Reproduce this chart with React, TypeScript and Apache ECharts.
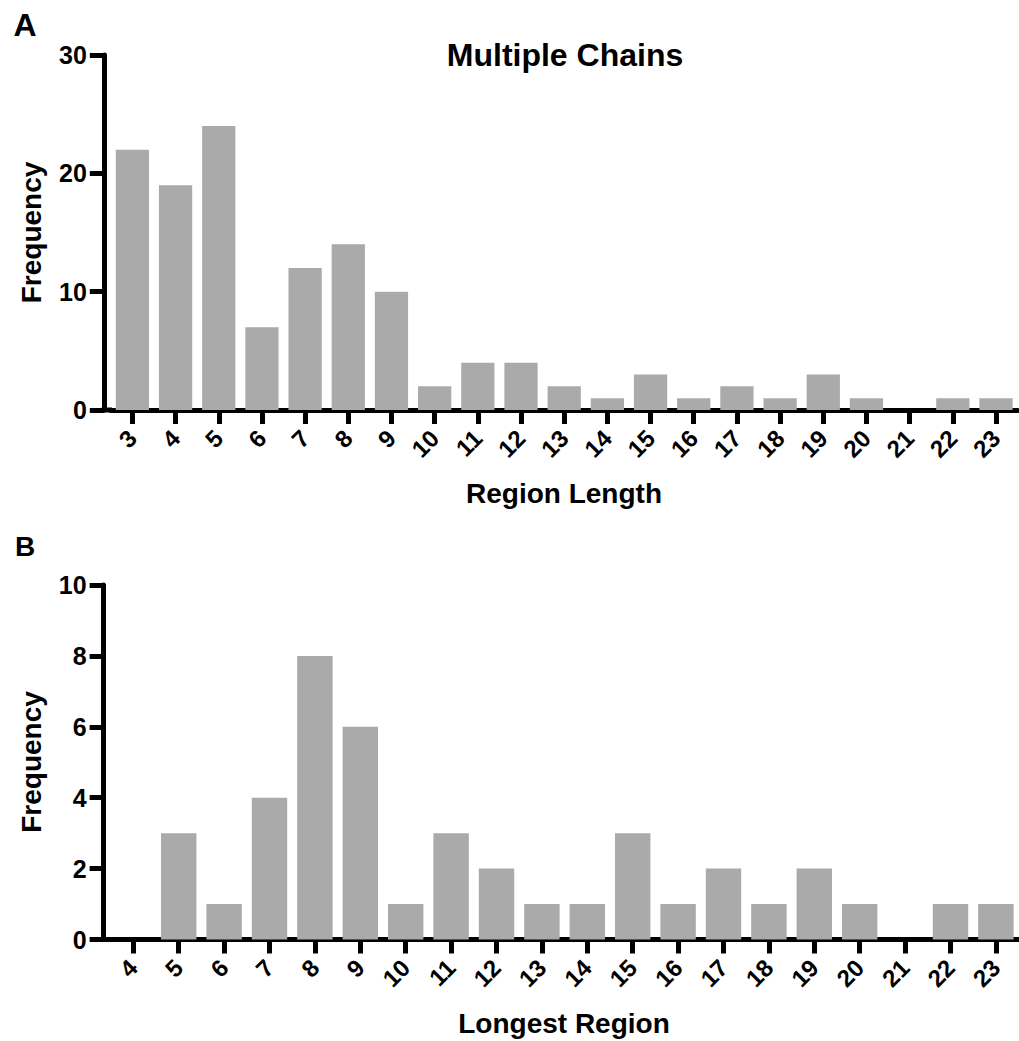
import React, { useEffect, useRef } from "react";
import * as echarts from "echarts";

const catsA = ["3","4","5","6","7","8","9","10","11","12","13","14","15","16","17","18","19","20","21","22","23"];
const valsA = [22, 19, 24, 7, 12, 14, 10, 2, 4, 4, 2, 1, 3, 1, 2, 1, 3, 1, 0, 1, 1];
const catsB = ["4","5","6","7","8","9","10","11","12","13","14","15","16","17","18","19","20","21","22","23"];
const valsB = [0, 3, 1, 4, 8, 6, 1, 3, 2, 1, 1, 3, 1, 2, 1, 2, 1, 0, 1, 1];
const titleA = "Multiple Chains";
const xNameA = "Region Length";
const xNameB = "Longest Region";
const yName = "Frequency";

const FONT = "'Liberation Sans', Arial, Helvetica, sans-serif";

export default function App() {
  const ref = useRef<HTMLDivElement>(null);
  useEffect(() => {
    document.body.style.margin = "0";
    if (!ref.current) return;
    const chart = echarts.init(ref.current, null, { renderer: "svg" });
    const gridA = { left: 110.8, top: 55, width: 906.8, height: 355 };
    const gridB = { left: 110.6, top: 585, width: 908, height: 354.5 };
    const LW = 5;
    const axisLine = { show: true, lineStyle: { color: "#000", width: LW } };
    const xAxisCommon = (idx: number, data: string[]) => ({
      type: "category",
      gridIndex: idx,
      data,
      axisLine,
      axisTick: { show: true, alignWithLabel: true, length: 14, lineStyle: { color: "#000", width: LW } },
      axisLabel: {
        interval: 0,
        rotate: 45,
        margin: 24,
        color: "#000",
        fontSize: 24,
        fontWeight: "bold",
        fontFamily: FONT,
      },
      splitLine: { show: false },
    });
    const yAxisCommon = (idx: number, max: number, interval: number) => ({
      type: "value",
      gridIndex: idx,
      min: 0,
      max,
      interval,
      offset: 7,
      axisLine,
      axisTick: { show: true, inside: false, length: 14, lineStyle: { color: "#000", width: LW } },
      axisLabel: {
        margin: 17,
        color: "#000",
        fontSize: 25,
        fontWeight: "bold",
        fontFamily: FONT,
      },
      splitLine: { show: false },
    });
    const barStyle = { color: "#aaaaaa" };
    const textEl = (text: string, x: number, y: number, size: number, rot = 0) => ({
      type: "text",
      x,
      y,
      rotation: rot,
      style: {
        text,
        fill: "#000",
        font: `bold ${size}px ${FONT}`,
        textAlign: "center",
        textVerticalAlign: "middle",
      },
    });
    chart.setOption({
      animation: false,
      backgroundColor: "#fff",
      grid: [gridA, gridB],
      xAxis: [xAxisCommon(0, catsA), xAxisCommon(1, catsB)],
      yAxis: [yAxisCommon(0, 30, 10), yAxisCommon(1, 10, 2)],
      series: [
        { type: "bar", xAxisIndex: 0, yAxisIndex: 0, data: valsA, barCategoryGap: "23%", itemStyle: barStyle },
        { type: "bar", xAxisIndex: 1, yAxisIndex: 1, data: valsB, barCategoryGap: "22%", itemStyle: barStyle },
      ],
      graphic: [
        { type: "line", shape: { x1: 101.5, y1: 410, x2: 112, y2: 410 }, style: { stroke: "#000", lineWidth: LW } },
        { type: "line", shape: { x1: 101.5, y1: 939.5, x2: 112, y2: 939.5 }, style: { stroke: "#000", lineWidth: LW } },
        textEl("A", 25, 25, 32),
        textEl("B", 25, 546, 28),
        textEl(titleA, 565, 55, 32),
        textEl(xNameA, 564, 493, 28),
        textEl(xNameB, 564, 1023, 28),
        textEl(yName, 31, 232.5, 28, Math.PI / 2),
        textEl(yName, 31, 762, 28, Math.PI / 2),
      ],
    });
    return () => chart.dispose();
  }, []);
  return <div ref={ref} style={{ width: 1019, height: 1041 }} />;
}
